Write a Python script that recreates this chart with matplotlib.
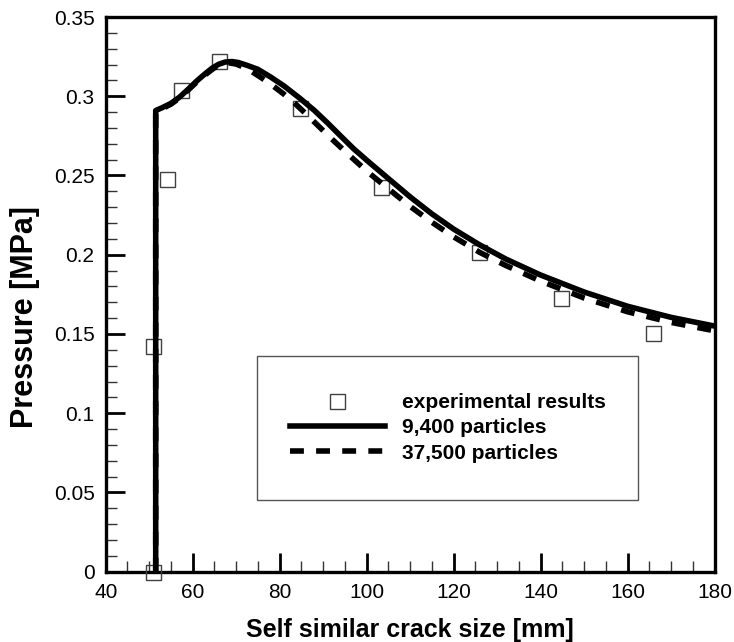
import numpy as np
import matplotlib
matplotlib.use('Agg')
import matplotlib.pyplot as plt
from matplotlib.patches import Rectangle
from matplotlib.ticker import MultipleLocator, FormatStrFormatter

plt.rcParams['font.family'] = ['Liberation Sans', 'DejaVu Sans']

# experimental results (squares)
exp_x = [50.9, 50.9, 54.0, 57.3, 66.0, 84.7, 103.2, 125.9, 144.6, 165.9]
exp_y = [0.0, 0.1424, 0.248, 0.304, 0.322, 0.2926, 0.2427, 0.2015, 0.1726, 0.1504]

# 9,400 particles (solid)
p9_x = [51.5, 51.5, 53.0, 55.0, 57.0, 59.0, 61.0, 63.0, 64.5, 66.0, 67.5, 69.0, 70.5,
        72.5, 75.0, 78.0, 81.0, 84.7, 88.0, 91.0, 94.0, 97.0, 100.5, 104.6, 110.0,
        115.0, 120.0, 126.0, 132.0, 140.0, 150.0, 160.0, 170.0, 180.0]
p9_y = [0.0, 0.291, 0.2928, 0.2955, 0.2995, 0.3045, 0.3098, 0.3145, 0.3178, 0.3202,
        0.3216, 0.3219, 0.3213, 0.3195, 0.317, 0.312, 0.3065, 0.2986, 0.291, 0.2832,
        0.275, 0.2669, 0.2585, 0.249, 0.2365, 0.2258, 0.2162, 0.2062, 0.1973, 0.1872,
        0.1765, 0.1675, 0.1605, 0.155]

# 37,500 particles (dashed)
p37_x = [51.5, 51.5, 53.0, 55.0, 57.0, 59.0, 61.0, 63.0, 65.0, 67.0, 68.5, 70.0, 72.5,
         75.5, 78.0, 80.8, 83.5, 86.2, 89.0, 92.0, 95.4, 98.0, 100.8, 104.6, 110.0,
         115.0, 120.0, 126.0, 132.0, 140.0, 150.0, 160.0, 170.0, 180.0]
p37_y = [0.0, 0.290, 0.2922, 0.295, 0.299, 0.304, 0.3092, 0.3138, 0.318, 0.3205,
         0.321, 0.3203, 0.3175, 0.3122, 0.3075, 0.3017, 0.2955, 0.2885, 0.281, 0.273,
         0.2643, 0.2578, 0.251, 0.2425, 0.2305, 0.2205, 0.2113, 0.2015, 0.1932,
         0.1834, 0.1727, 0.164, 0.1573, 0.152]

fig = plt.figure(figsize=(7.34, 6.42), dpi=100)
ax = fig.add_axes([0.144, 0.1095, 0.8295, 0.864])

ax.plot(exp_x, exp_y, linestyle='none', marker='s', markersize=10.8,
        markerfacecolor='none', markeredgecolor='#404040', markeredgewidth=1.0,
        clip_on=False, zorder=3, label='experimental results')
ax.plot(p9_x, p9_y, color='black', linewidth=4, solid_joinstyle='round',
        zorder=4, label='9,400 particles')
ax.plot(p37_x, p37_y, color='black', linewidth=4, dashes=(2.5, 2.2),
        zorder=4, label='37,500 particles')

ax.set_xlim(40, 180)
ax.set_ylim(0, 0.35)
ax.xaxis.set_major_locator(MultipleLocator(20))
ax.xaxis.set_minor_locator(MultipleLocator(5))
ax.yaxis.set_major_locator(MultipleLocator(0.05))
ax.yaxis.set_minor_locator(MultipleLocator(0.01))
ax.yaxis.set_major_formatter(FormatStrFormatter('%g'))

ax.tick_params(which='both', direction='in', top=False, right=False)
ax.tick_params(which='major', length=14, width=2, labelsize=15, pad=8)
ax.tick_params(which='minor', length=8, width=1, color='#333333')
for s in ax.spines.values():
    s.set_linewidth(2.4)

ax.set_xlabel('Self similar crack size [mm]', fontsize=18, fontweight='bold', labelpad=12)
ax.set_ylabel('Pressure [MPa]', fontsize=22, fontweight='bold')
ax.yaxis.set_label_coords(-0.108, 0.46)

# legend frame
box = Rectangle((0.2487, 0.1293), 0.6263, 0.2596, transform=ax.transAxes,
                facecolor='white', edgecolor='#555555', linewidth=1.0, zorder=5)
ax.add_patch(box)
leg = ax.legend(loc='center', bbox_to_anchor=(0.5617, 0.2591), frameon=False,
                prop={'size': 15, 'weight': 'bold'}, handlelength=4.6,
                handletextpad=0.8, labelspacing=0.3, borderpad=0)
leg.set_zorder(6)

fig.savefig('out.png', dpi=100)
